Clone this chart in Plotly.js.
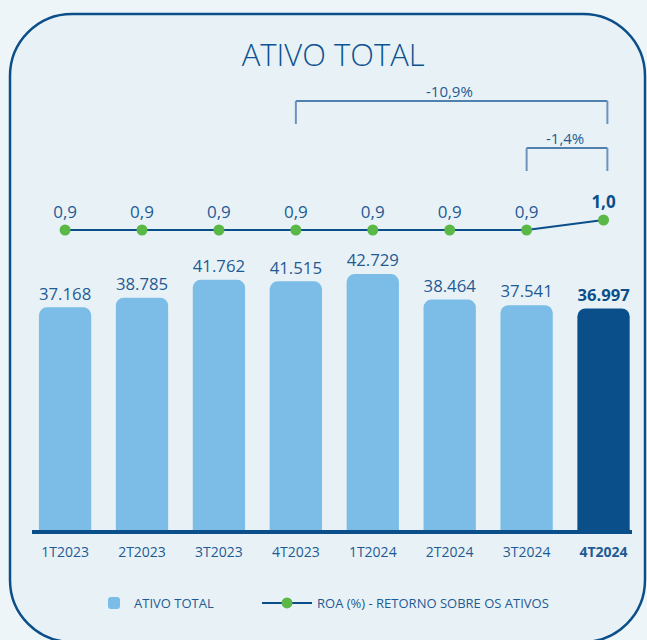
<!DOCTYPE html>
<html>
<head>
<meta charset="utf-8">
<script src="https://cdn.plot.ly/plotly-3.0.1.min.js"></script>
<style>html,body{margin:0;padding:0;background:#eef5f8;}#chart{width:647px;height:640px;}</style>
</head>
<body>
<div id="chart"></div>
<script>
// ---- data ----
const quarters = ["1T2023","2T2023","3T2023","4T2023","1T2024","2T2024","3T2024","4T2024"];
const ativoTotal = [37168, 38785, 41762, 41515, 42729, 38464, 37541, 36997];
const roa = [0.9, 0.9, 0.9, 0.9, 0.9, 0.9, 0.9, 1.0];
const seriesNames = ["ATIVO TOTAL", "ROA (%) - RETORNO SOBRE OS ATIVOS"];
const chartTitle = "ATIVO TOTAL";

// ---- helpers ----
function fmtThousands(v){
  const s = Math.round(v).toString();
  return s.replace(/\B(?=(\d{3})+(?!\d))/g, ".");
}
function fmtDec(v, d){ return v.toFixed(d).replace(".", ","); }
function pct(a, b){
  const p = (b / a - 1) * 100;
  return p.toFixed(1).replace(".", ",") + "%";
}
const last = quarters.length - 1;
const DARK = "#0b4f8a", LIGHT = "#7bbde6", TXT = "#1f5a94", GREEN = "#5ab946";

const barText = ativoTotal.map((v,i)=> i===last ? "<b>"+fmtThousands(v)+"</b>" : fmtThousands(v));
const roaText = roa.map((v,i)=> i===last ? "<b>"+fmtDec(v,1)+"</b>" : fmtDec(v,1));
const tickText = quarters.map((q,i)=> i===last ? "<b>"+q+"</b>" : q);

// layout geometry (pixels)
const W = 647, H = 640, ML = 32, MR = 15, MT = 80, MB = 110;
const PW = W - ML - MR, PH = H - MT - MB;
const px = p => (p - ML) / PW;
const py = p => (H - MB - p) / PH;

// rounded border frame
function roundRect(x0, y0, x1, y1, R){
  const k = R * 0.5523;
  const P = (x, y) => px(x) + "," + py(y);
  return "M" + P(x0+R, y0) + " L" + P(x1-R, y0) +
    " C" + P(x1-R+k, y0) + " " + P(x1, y0+R-k) + " " + P(x1, y0+R) +
    " L" + P(x1, y1-R) +
    " C" + P(x1, y1-R+k) + " " + P(x1-R+k, y1) + " " + P(x1-R, y1) +
    " L" + P(x0+R, y1) +
    " C" + P(x0+R-k, y1) + " " + P(x0, y1-R+k) + " " + P(x0, y1-R) +
    " L" + P(x0, y0+R) +
    " C" + P(x0, y0+R-k) + " " + P(x0+R-k, y0) + " " + P(x0+R, y0) + " Z";
}

function bracket(iA, iB, yTop, yBot){
  return [
    {type:"line", xref:"x", yref:"paper", x0:quarters[iA], x1:quarters[iB], x1shift:0.05, y0:yTop, y1:yTop, line:{color:"#1d5a96", width:1.5}},
    {type:"line", xref:"x", yref:"paper", x0:quarters[iA], x1:quarters[iA], y0:yTop, y1:yBot, line:{color:"#6a93bd", width:2}},
    {type:"line", xref:"x", yref:"paper", x0:quarters[iB], x1:quarters[iB], x0shift:0.05, x1shift:0.05, y0:yTop, y1:yBot, line:{color:"#6a93bd", width:2}}
  ];
}

const FONT = "Open Sans, Noto Sans, sans-serif";

const traces = [
  {
    type:"bar", name:seriesNames[0], x:quarters, y:ativoTotal, legend:"legend",
    width:0.68,
    marker:{color:ativoTotal.map((v,i)=> i===last ? DARK : LIGHT), line:{width:0}},
    text:barText, textposition:"outside", cliponaxis:false,
    textfont:{family:FONT, size:18, color:ativoTotal.map((v,i)=> i===last ? DARK : TXT)},
    hoverinfo:"skip"
  },
  {
    type:"scatter", mode:"lines+markers+text", name:seriesNames[1], x:quarters, y:roa, yaxis:"y2", legend:"legend2",
    line:{color:DARK, width:2}, marker:{color:GREEN, size:11},
    text:roaText, textposition:"top center", cliponaxis:false,
    textfont:{family:FONT, size:17, color:roa.map((v,i)=> i===last ? DARK : TXT)},
    hoverinfo:"skip"
  }
];

const iA = 3, iB = 6;
const layout = {
  width:W, height:H,
  margin:{l:ML, r:MR, t:MT, b:MB},
  paper_bgcolor:"#eef5f8", plot_bgcolor:"rgba(0,0,0,0)",
  font:{family:FONT, color:TXT},
  title:{text:chartTitle, x:0.515, xanchor:"center", y:1-55/H, yanchor:"middle", yref:"container",
         font:{family:FONT, size:31, color:"#0d5391", weight:300}},
  barcornerradius:8,
  showlegend:true,
  legend:{orientation:"h", x:px(94), xanchor:"left", y:py(603), yanchor:"middle",
          font:{family:FONT, size:13, color:TXT}, bgcolor:"rgba(0,0,0,0)", itemwidth:30},
  legend2:{orientation:"h", x:px(257), xanchor:"left", y:py(603), yanchor:"middle",
          font:{family:FONT, size:13, color:TXT}, bgcolor:"rgba(0,0,0,0)", itemwidth:50},
  xaxis:{type:"category", range:[-0.43, 7.37], showline:true, linecolor:DARK, linewidth:4,
         ticks:"", tickvals:quarters, ticktext:tickText, tickfont:{family:FONT, size:14, color:TXT},
         showgrid:false, zeroline:false, fixedrange:true, ticklabelstandoff:6},
  yaxis:{range:[0, PH/5.99*1000], visible:false, showgrid:false, zeroline:false, fixedrange:true},
  yaxis2:{overlaying:"y", range:[-2.1, 2.4], visible:false, showgrid:false, zeroline:false, fixedrange:true},
  shapes:[
    {type:"path", xref:"paper", yref:"paper", layer:"below", path:roundRect(10, 14, 645, 642, 62),
     fillcolor:"#e8f2f6", line:{color:DARK, width:2.5}}
  ].concat(bracket(iA, last, py(101), py(124)), bracket(iB, last, py(148), py(171))),
  annotations:[
    {xref:"x", yref:"paper", x:(iA+last)/2, y:py(91), text:pct(ativoTotal[iA], ativoTotal[last]), showarrow:false,
     font:{family:FONT, size:15, color:TXT}, yanchor:"middle"},
    {xref:"x", yref:"paper", x:(iB+last)/2, y:py(138), text:pct(ativoTotal[iB], ativoTotal[last]), showarrow:false,
     font:{family:FONT, size:15, color:TXT}, yanchor:"middle"}
  ]
};

Plotly.newPlot("chart", traces, layout, {displayModeBar:false, staticPlot:true});
</script>
</body>
</html>
